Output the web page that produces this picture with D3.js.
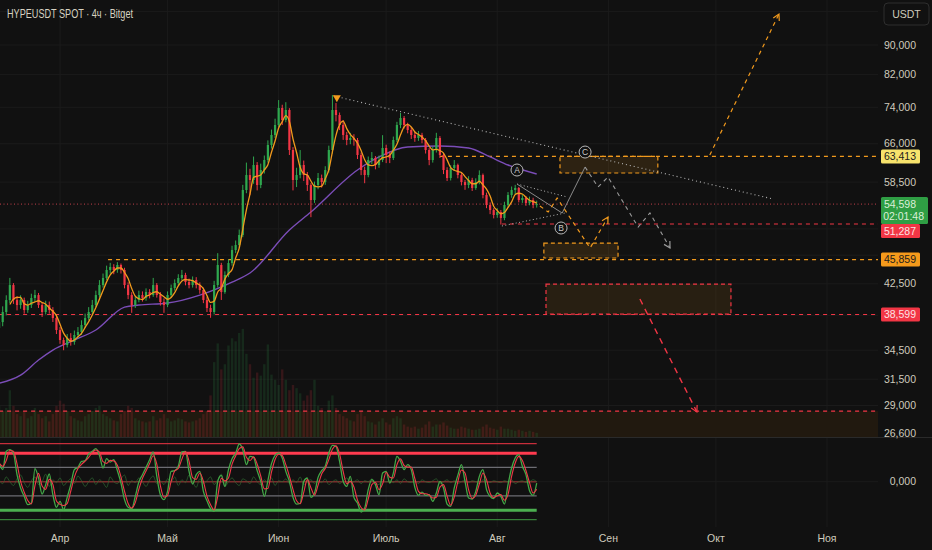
<!DOCTYPE html>
<html>
<head>
<meta charset="utf-8">
<script src="https://cdn.jsdelivr.net/npm/d3@7"></script>
<style>
  html, body { margin: 0; padding: 0; background: #111111; }
  svg { display: block; font-family: "Liberation Sans", "Noto Sans", sans-serif; }
</style>
</head>
<body>
<svg id="chart" width="932" height="550"></svg>
<script>
// ---- Data (one candle per day) ----
const firstOpen = 37000;
const closes = [
  37690,38900,40390,42340,40390,39760,40390,39140,39760,40650,
  41030,39760,38900,39760,39140,38170,36760,35620,35070,35850,
  35400,36190,36530,37340,38170,38900,39760,41030,42340,43290,
  44390,44810,44390,45090,44390,42340,41030,39760,40390,41030,
  40650,41420,41030,42340,41030,40140,39760,41030,41950,42610,
  43290,43700,42740,42340,43010,42340,41680,40390,39390,38900,
  42340,45090,41420,43700,45370,47260,48010,49550,57070,59820,
  58890,61730,57970,60770,62710,65740,67840,70000,73840,71110,
  73380,64710,58890,59820,61730,59820,57970,55300,57970,59260,
  58520,60770,64710,73380,72230,70000,67840,66780,67200,66780,
  63700,60770,59820,62710,63110,61730,62710,65120,63700,63110,
  66780,70000,71560,70000,68910,67840,67200,67840,66780,64710,
  62710,64710,67200,63700,60770,59260,61150,61730,59820,58520,
  57970,58890,57430,58520,59820,56180,54440,53590,52760,53260,
  52270,54440,56180,57070,57430,55300,55650,54780,55300,54440,
  54598
];
const highs = [
  38400,39600,41000,43300,42600,40900,41000,40700,40300,41200,
  41700,41300,40100,40300,40200,39500,38400,37100,35900,36300,
  36400,36700,37100,37900,38700,39500,40400,41600,43000,43900,
  45000,45400,45200,45500,45300,44700,42700,41400,40900,41600,
  41500,41900,41800,43300,42600,41400,40600,41500,42400,43100,
  43800,44400,44000,43200,43500,43400,42700,42000,40800,39800,
  42900,46800,45400,44200,45900,47900,48700,50400,58000,62200,
  61000,63400,62300,62000,63600,66700,69000,71400,75700,74600,
  75200,73800,65300,61200,64700,62600,60400,58300,58600,60200,
  59900,61500,65600,76900,75000,72800,71100,68500,68300,68000,
  67200,64200,61400,63400,64300,63500,63600,67800,65800,64400,
  67500,70700,72700,72000,70500,69500,68600,68700,68300,67200,
  65100,65400,68300,67600,64100,61300,61700,62700,62000,60300,
  58900,59600,59300,59200,60700,60100,56600,54900,53900,53900,
  53600,55000,56700,57700,58000,57600,56300,56000,55900,55700,
  55200
];
const lows = [
  36600,37200,38500,40000,39900,39100,39300,38700,38800,39400,
  40200,39400,38300,38600,38700,37700,36300,35200,34500,34800,
  35000,35100,35800,36200,37000,37900,38600,39500,40700,42000,
  43000,43900,43800,44000,43900,41900,40500,38800,39400,40100,
  40200,40300,40600,40800,40700,39700,38800,39500,40700,41600,
  42300,43000,42300,41900,42000,41900,41200,40000,38900,38200,
  38600,42000,40400,41200,43400,45000,46800,47600,49200,56500,
  56200,58200,57000,57400,60100,62200,65000,67200,69500,70000,
  70600,63700,57000,57600,59200,58700,56900,52400,54800,57200,
  57500,58000,60300,64000,70800,68900,66800,65700,65900,65600,
  62900,59800,58300,59400,61900,60900,61200,62300,62100,62100,
  62700,66300,69300,69200,68200,67000,66400,66600,66100,64000,
  61700,62200,64200,63100,60000,58700,58800,60600,59200,57900,
  57100,57400,56900,57100,58100,55600,53900,52900,52200,52300,
  51200,51900,54000,55700,56300,54900,54800,54300,54400,53900,
  54000
];
const volumes = [
  30,25,28,45,30,22,20,25,18,20,28,
  22,18,20,15,22,30,35,32,25,20,
  18,16,15,20,22,25,28,30,22,20,
  18,16,15,22,25,30,28,18,16,15,
  14,15,20,16,18,22,18,15,16,18,
  17,15,14,15,16,18,22,25,40,72,
  90,65,70,88,95,92,100,104,80,70,
  57,62,59,70,89,60,55,50,65,55,
  45,50,47,42,35,40,45,55,30,28,
  25,35,40,28,22,20,18,16,15,22,
  25,20,15,14,12,15,18,14,12,18,
  20,18,12,10,9,10,8,9,12,15,
  10,12,12,14,11,9,8,8,10,9,
  8,7,7,8,10,12,9,8,7,10,
  8,8,7,6,7,6,5,6,5,4
];
// slow moving average, sampled (day index, value)
const slowMaDays = [0,6,11,15,21,27,35,39,47,56,65,70,81,87,100,106,114,123,131,137,142,150];
const slowMaVals = [31100,31900,33450,34520,35620,36760,39510,39760,40010,41030,42740,43970,
                    50330,53260,60770,63310,65330,65530,65120,63310,61730,60010];
// oscillator (0..100)
const osc = [
  69.7,62.7,82,83.7,80.2,57.4,43.4,34.6,25.8,27.6,
  63.7,53.9,37,46.9,58.1,36.3,23,29.3,20.5,33.5,
  46.9,62.7,65.1,71.4,72.1,79.2,82,84.8,77.7,64.4,
  74.2,70.7,73.2,61.6,48.6,31.1,23,21.6,34.6,49.7,
  57.4,65.1,73.2,81.3,55.6,36.3,31.1,39.8,60.9,61.6,
  66.2,81.3,82,60.9,47.6,57.4,60.9,39.8,30,21.6,
  18.8,50.4,56.7,45.1,62.7,74.2,79.9,89.7,83.7,67.9,
  76.7,75.6,61.6,50.4,34.6,51.1,69,77.7,80.2,74.9,
  60.9,50.4,33.5,26.5,27.2,50.4,53.9,33.5,38.1,54.6,
  61.6,66.2,80.2,88.3,87.2,71.4,50.4,45.1,55.6,33.5,
  27.6,18.1,22.3,41.6,52.1,46.9,36.3,59.1,60.9,48.6,
  59.1,76.7,71.4,62.7,67.9,62.7,44.1,35.6,39.1,35.6,
  36.3,29.3,38.1,50.4,43.4,26.5,24,43.4,56.7,67.9,
  50.4,32.8,31.8,39.8,55.6,62.7,41.6,34.6,32.1,38.1,
  34.6,26.5,46.9,64.4,74.9,78.5,66.2,57.4,40.5,35.6,
  48.6
];
const oscNoise = [
  52,48,55,50,46,53,57,49,44,51, 55,47,50,58,45,52,49,54,46,50,
  53,48,56,51,45,50,54,47,52,49, 44,55,50,48,53,57,46,51,49,54,
  50,45,52,56,48,51,47,53,50,55, 46,52,49,57,50,44,53,48,51,55,
  47,52,58,45,50,54,49,46,53,51, 48,55,50,47,52,49,54,46,51,50,
  53,48,52,49,55,47,50,52,48,51, 49,53,47,50,52,48,51,54,49,50,
  52,48,51,50,53,49,47,52,50,51, 49,52,48,53,50,49,51,48,52,50,
  49,51,53,48,50,52,49,51,48,50, 52,49,51,50,48,52,50,49,51,50,
  49,51,50,52,48,50,51,49,50,52, 50
];
const oscLevels = [90, 80, 65, 50, 35, 20, 10];

const priceTicks = [100000, 90000, 82000, 74000, 66000, 58500, 50500, 46500, 42500, 38500, 34500, 31500, 29000, 26600];
// tick labels covered by the USDT button and the price tags
const hiddenTicks = [100000, 50500, 46500, 38500];
const monthLabels = ['Апр', 'Май', 'Июн', 'Июль', 'Авг', 'Сен', 'Окт', 'Ноя'];
const monthIdx = [3, 4, 5, 6, 7, 8, 9, 10];

// horizontal levels: price, start day
const levelPrices = [63413, 51287, 45859, 38599, 28500];
const levelFrom   = [123, 140.3, 30.4, 0, 0];
// zones: [dayFrom, dayTo, priceTop, priceBottom]
const zoneC      = [156.5, 183.8, 63413, 60200];
const zoneLow    = [152.0, 172.7, 48310, 46090];
const zoneRed    = [152.6, 204.2, 42470, 38650];
const zoneBottom = [0, 246, 28500, 26000];
// drawings (day, price)
const trendDays = [93.4, 215.9],           trendPrices = [76680, 55480];
const triUpDays = [144.5, 158.5],          triUpPrices = [58150, 55830];
const triLoDays = [140.3, 157.9],          triLoPrices = [50970, 53090];
const waveDays  = [144.5, 157.1, 163.5],   wavePrices  = [58150, 53090, 61350];
const grayDays  = [163.5, 167.1, 169.9, 178.3, 181.6, 187.2];
const grayPrices = [61350, 57610, 59440, 50810, 53090, 47560];
const orangeDays = [150.9, 153.2, 155.7, 164.9, 169.9];
const orangePrices = [54270, 53260, 55650, 47560, 52430];
const upDays = [198.3, 217.6],  upPrices = [63700, 99200];
const dnDays = [178.8, 194.7],  dnPrices = [40520, 28420];
const labelDays = [144.5, 156.8, 163.5], labelPrices = [60770, 50650, 64300], labelText = ['A', 'B', 'C'];
const peakDay = 93.4, peakPrice = 75900;

const tagPrices = [63413, 54598, 51287, 45859, 38599];
const tagShift  = [0, 0, 7, 0, 0];   // tags nudged apart like the terminal does

// ---- Layout ----
const W = 932, H = 550, plotR = 878, paneBottom = 437;
const svg = d3.select('#chart');
const t0 = Date.UTC(2025, 2, 15);
const x = d3.scaleUtc()
  .domain([new Date(t0), new Date(Date.UTC(2025, 10, 1))])
  .range([-0.9, 827]);
const dx = d => x(new Date(t0 + d * 864e5));
const y = d3.scaleLog().domain([26600, 90000]).range([433, 45]);
const vy = d3.scaleLinear().domain([0, 100]).range([paneBottom, 333]);
const oy = d3.scaleLinear().domain([10, 90]).range([519.7, 443.7]);

const C = {
  bg: '#111111', grid: '#1b1b1b', text: '#cfcbbd',
  up: '#2fa84f', down: '#f23645', orange: '#f29a1d', purple: '#7b4db8',
  gray: '#9a9a9a', red: '#f23645'
};

svg.append('rect').attr('width', W).attr('height', H).attr('fill', C.bg);

svg.append('defs').append('clipPath').attr('id', 'mainClip')
  .append('rect').attr('x', 0).attr('y', 0).attr('width', plotR).attr('height', paneBottom);

// grid
const grid = svg.append('g');
const months = monthIdx.map(m => new Date(Date.UTC(2025, m, 1)));
grid.selectAll('line.v').data(months).join('line')
  .attr('x1', d => x(d)).attr('x2', d => x(d)).attr('y1', 0).attr('y2', 527)
  .attr('stroke', C.grid);
grid.selectAll('line.h').data(priceTicks).join('line')
  .attr('x1', 0).attr('x2', plotR).attr('y1', d => y(d)).attr('y2', d => y(d))
  .attr('stroke', C.grid);
grid.append('line').attr('x1', 0).attr('x2', plotR).attr('y1', oy(50)).attr('y2', oy(50)).attr('stroke', C.grid);

const main = svg.append('g').attr('clip-path', 'url(#mainClip)');

function zone(z, stroke, fill) {
  const x0 = dx(z[0]), x1 = dx(z[1]), y0 = y(z[2]), y1 = y(z[3]);
  main.append('rect').attr('x', x0).attr('y', y0).attr('width', x1 - x0).attr('height', y1 - y0)
    .attr('fill', fill).attr('stroke', stroke).attr('stroke-width', 1.2).attr('stroke-dasharray', '4,3');
}
zone(zoneBottom, 'none', '#21190f');

// volume
const days = d3.range(closes.length);
const opens = days.map(i => i ? closes[i - 1] : firstOpen);
main.append('g').selectAll('rect').data(days).join('rect')
  .attr('x', i => dx(i) - 1.2).attr('width', 2.4)
  .attr('y', i => vy(volumes[i])).attr('height', i => paneBottom - vy(volumes[i]))
  .attr('fill', i => closes[i] >= opens[i] ? C.up : C.down)
  .attr('fill-opacity', 0.16);

// levels
const levelColor = ['#f29a1d', '#f23645', '#f29a1d', '#f23645', '#f23645'];
levelPrices.forEach((p, k) => {
  main.append('line').attr('x1', dx(levelFrom[k])).attr('x2', plotR)
    .attr('y1', y(p)).attr('y2', y(p))
    .attr('stroke', levelColor[k]).attr('stroke-width', 1.2).attr('stroke-dasharray', '4,4');
});
// current price dotted line
const last = closes[closes.length - 1];
main.append('line').attr('x1', 0).attr('x2', plotR).attr('y1', y(last)).attr('y2', y(last))
  .attr('stroke', '#c2404c').attr('stroke-width', 1).attr('stroke-dasharray', '1,2.5');

zone(zoneC, '#f29a1d', 'rgba(242,154,29,0.13)');
zone(zoneLow, '#f29a1d', 'rgba(242,154,29,0.13)');
zone(zoneRed, '#f23645', 'rgba(242,154,29,0.10)');

// slow MA
main.append('path')
  .datum(slowMaDays.map((d, k) => [dx(d), y(slowMaVals[k])]))
  .attr('d', d3.line().curve(d3.curveMonotoneX))
  .attr('fill', 'none').attr('stroke', C.purple).attr('stroke-width', 1.4);

// candles
const candles = main.append('g').selectAll('g').data(days).join('g');
candles.append('line')
  .attr('x1', i => dx(i)).attr('x2', i => dx(i))
  .attr('y1', i => y(highs[i])).attr('y2', i => y(lows[i]))
  .attr('stroke', i => closes[i] >= opens[i] ? C.up : C.down).attr('stroke-width', 1);
candles.append('rect')
  .attr('x', i => dx(i) - 1.1).attr('width', 2.2)
  .attr('y', i => y(Math.max(opens[i], closes[i])))
  .attr('height', i => Math.max(1, Math.abs(y(opens[i]) - y(closes[i]))))
  .attr('fill', i => closes[i] >= opens[i] ? C.up : C.down);

// fast MA (4-day simple average of closes)
const fast = days.filter(i => i >= 3).map(i => [dx(i), y(d3.mean(closes.slice(i - 3, i + 1)))]);
main.append('path').datum(fast)
  .attr('d', d3.line().curve(d3.curveMonotoneX))
  .attr('fill', 'none').attr('stroke', C.orange).attr('stroke-width', 1.3);

// drawings
const pts = (ds, ps) => ds.map((d, k) => [dx(d), y(ps[k])]);
const line = d3.line();
function arrowHead(p0, p1, color) {
  const a = Math.atan2(p1[1] - p0[1], p1[0] - p0[0]), L = 7;
  const h1 = [p1[0] - L * Math.cos(a - 0.5), p1[1] - L * Math.sin(a - 0.5)];
  const h2 = [p1[0] - L * Math.cos(a + 0.5), p1[1] - L * Math.sin(a + 0.5)];
  main.append('path').attr('d', line([h1, p1, h2])).attr('fill', 'none')
    .attr('stroke', color).attr('stroke-width', 1.2);
}
function poly(p, color, dash, w, arrow) {
  main.append('path').attr('d', line(p)).attr('fill', 'none')
    .attr('stroke', color).attr('stroke-width', w).attr('stroke-dasharray', dash);
  if (arrow) arrowHead(p[p.length - 2], p[p.length - 1], color);
}
poly(pts(trendDays, trendPrices), '#b5b5b5', '1,3', 1.1, false);
poly(pts(triUpDays, triUpPrices), '#b5b5b5', '1,2.5', 1, false);
poly(pts(triLoDays, triLoPrices), '#b5b5b5', '1,2.5', 1, false);
poly(pts(waveDays, wavePrices), '#8a8a8a', null, 1, false);
poly(pts(grayDays, grayPrices), '#9a9a9a', '4,4', 1.1, true);
poly(pts(orangeDays, orangePrices), C.orange, '4,4', 1.2, true);
poly(pts(upDays, upPrices), C.orange, '4,4', 1.2, true);
poly(pts(dnDays, dnPrices), '#f23645', '6,5', 1.4, true);

// peak marker
const pk = [dx(peakDay) + 3, y(peakPrice)];
main.append('path').attr('d', line([[pk[0] - 4, pk[1] - 4], [pk[0] + 4, pk[1] - 4], [pk[0], pk[1] + 3]]) + 'Z')
  .attr('fill', C.orange);

// wave labels
labelDays.forEach((d, k) => {
  const g = main.append('g').attr('transform', `translate(${dx(d)},${y(labelPrices[k])})`);
  g.append('circle').attr('r', 6).attr('fill', '#111').attr('stroke', '#b8b8b8').attr('stroke-width', 1);
  g.append('text').text(labelText[k]).attr('text-anchor', 'middle').attr('dy', 3)
    .attr('font-size', 8.5).attr('fill', '#c8c8c8');
});

// ---- Oscillator pane ----
svg.append('line').attr('x1', 0).attr('x2', W).attr('y1', paneBottom + 0.5).attr('y2', paneBottom + 0.5)
  .attr('stroke', '#2a2a2a');
const lvlColor = ['#f23645', '#ff3b4f', '#6d6d73', '#7a2c2c', '#6d6d73', '#4caf50', '#3f9a43'];
const lvlWidth = [1, 3, 1.2, 1.6, 1.2, 3, 1];
const oscEnd = dx(days.length - 1);
oscLevels.forEach((v, k) => {
  svg.append('line').attr('x1', 0).attr('x2', oscEnd).attr('y1', oy(v)).attr('y2', oy(v))
    .attr('stroke', lvlColor[k]).attr('stroke-width', lvlWidth[k]);
});
const oscLine = d3.line().x(i => dx(i)).curve(d3.curveMonotoneX);
svg.append('path').datum(days)
  .attr('d', oscLine.y(i => oy(oscNoise[i])))
  .attr('fill', 'none').attr('stroke', '#2f6a32').attr('stroke-opacity', 0.7).attr('stroke-width', 1);
svg.append('path').datum(days)
  .attr('d', oscLine.y(i => oy(osc[i])))
  .attr('fill', 'none').attr('stroke', '#43a847').attr('stroke-width', 1.3);
svg.append('path').datum(days)
  .attr('d', oscLine.y(i => oy(i ? (osc[i] + osc[i - 1]) / 2 : osc[i])))
  .attr('fill', 'none').attr('stroke', '#f03a48').attr('stroke-width', 1.1);

// ---- Axes ----
const axisR = svg.append('g');
axisR.selectAll('text').data(priceTicks.filter(d => !hiddenTicks.includes(d))).join('text')
  .attr('x', 916).attr('y', d => y(d) + 3.5).attr('text-anchor', 'end')
  .attr('font-size', 10.5).attr('fill', C.text)
  .text(d => d3.format(',')(d));
axisR.append('text').attr('x', 916).attr('y', oy(50) + 3.5).attr('text-anchor', 'end')
  .attr('font-size', 10.5).attr('fill', C.text).text('0,000');

// USDT box
svg.append('rect').attr('x', 884).attr('y', 3).attr('width', 45).attr('height', 22).attr('rx', 4)
  .attr('fill', C.bg).attr('stroke', '#2e2e2e');
svg.append('text').attr('x', 906.5).attr('y', 18).attr('text-anchor', 'middle')
  .attr('font-size', 10.5).attr('fill', C.text).text('USDT');

// price tags
const tagFill = ['#f7e36c', '#2f9e44', '#f23645', '#f59a1b', '#f23645'];
const tagInk  = ['#1c1c1c', '#dcefd8', '#fde2e4', '#1c1c1c', '#fde2e4'];
tagPrices.forEach((p, k) => {
  const cy = y(p) + tagShift[k], big = k === 1;
  svg.append('rect').attr('x', 881).attr('y', cy - 7).attr('width', big ? 47 : 39).attr('height', big ? 27 : 14)
    .attr('rx', 1.5).attr('fill', tagFill[k]);
  svg.append('text').attr('x', 916).attr('y', cy + 3.5).attr('text-anchor', 'end')
    .attr('font-size', 10.5).attr('fill', tagInk[k]).text(d3.format(',')(p));
  if (big) svg.append('text').attr('x', 924).attr('y', cy + 16).attr('text-anchor', 'end')
    .attr('font-size', 10.5).attr('fill', tagInk[k]).text('02:01:48');
});

// months
svg.append('g').selectAll('text').data(months).join('text')
  .attr('x', d => x(d)).attr('y', 542).attr('text-anchor', 'middle')
  .attr('font-size', 10.5).attr('fill', C.text)
  .text((d, k) => monthLabels[k]);

// title
svg.append('text').attr('x', 7).attr('y', 18)
  .attr('font-size', 12).attr('fill', '#d6d1c1')
  .attr('textLength', 126).attr('lengthAdjust', 'spacingAndGlyphs')
  .text('HYPEUSDT SPOT · 4ч · Bitget');
</script>
</body>
</html>
